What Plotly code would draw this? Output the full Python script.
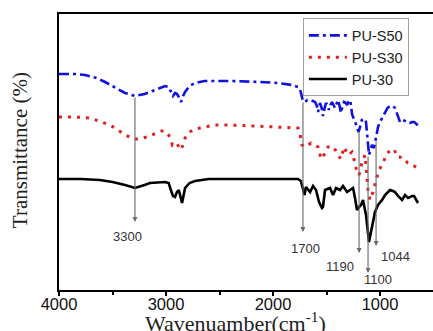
import plotly.graph_objects as go

# ---------------- data ----------------
s50_wn = [4000, 3850, 3757, 3650, 3570, 3470, 3383, 3290, 3200, 3150, 3060, 3009, 2975, 2955,
          2935, 2915, 2897, 2880, 2860, 2840, 2822, 2780, 2729, 2640, 2542, 2400, 2121, 1950,
          1822, 1766, 1748, 1735, 1720, 1700, 1680, 1654, 1630, 1607, 1590, 1579, 1570, 1561,
          1545, 1533, 1520, 1505, 1490, 1477, 1463, 1449, 1435, 1421, 1407, 1393, 1380, 1365,
          1350, 1336, 1320, 1308, 1295, 1280, 1270, 1262, 1245, 1234, 1215, 1200, 1187, 1170,
          1159, 1140, 1131, 1120, 1103, 1090, 1075, 1056, 1037, 1019, 1000, 981, 953, 930, 907,
          879, 860, 841, 813, 790, 766, 740, 720, 700, 682, 660, 645]
s50_t = [216, 216, 215, 212, 208, 202, 197, 194, 196, 198, 202, 204, 203, 199,
         194, 197, 196, 193, 188, 194, 198, 204, 207, 209, 209, 209, 208, 207,
         205, 203, 201, 196, 189, 188, 190, 190, 189, 188, 184, 178, 183, 187,
         182, 174, 181, 187, 185, 180, 185, 188, 185, 182, 186, 190, 185, 177,
         184, 188, 187, 185, 188, 190, 184, 176, 171, 169, 162, 158, 163, 170,
         171, 171, 168, 155, 135, 140, 145, 142, 155, 163, 168, 172, 178, 182, 184,
         184, 182, 177, 168, 170, 169, 167, 167, 168, 168, 166, 164]

s30_wn = [4000, 3850, 3710, 3620, 3523, 3450, 3383, 3300, 3262, 3180, 3103, 3040, 3009, 2975,
          2955, 2940, 2915, 2900, 2880, 2865, 2845, 2822, 2780, 2729, 2682, 2542, 2402, 2200,
          1935, 1766, 1748, 1729, 1701, 1645, 1579, 1551, 1505, 1486, 1430, 1402, 1365, 1336,
          1299, 1262, 1234, 1215, 1196, 1168, 1140, 1131, 1121, 1112, 1093, 1065, 1037, 1009,
          972, 935, 869, 841, 813, 790, 766, 740, 700, 660, 645]
s30_t = [173, 173, 172, 169, 165, 160, 155, 151, 151, 153, 156, 159, 159, 155,
         150, 145, 147, 147, 143, 140, 144, 152, 158, 161, 162, 165, 165, 164,
         163, 162, 156, 145, 143, 147, 143, 131, 138, 143, 143, 136, 131, 143,
         135, 138, 127, 117, 115, 128, 135, 123, 111, 100, 90, 98, 110, 120,
         127, 137, 141, 133, 133, 130, 130, 127, 125, 123, 122]

pu30_wn = [4000, 3800, 3617, 3500, 3383, 3290, 3200, 3150, 3009, 2975, 2955, 2935, 2916, 2897,
           2880, 2865, 2850, 2835, 2822, 2780, 2729, 2600, 2400, 1950, 1766, 1740, 1720, 1705,
           1692, 1654, 1626, 1598, 1570, 1542, 1533, 1514, 1467, 1439, 1411, 1374, 1346, 1308,
           1280, 1252, 1234, 1215, 1196, 1178, 1159, 1131, 1103, 1075, 1047, 1019, 981, 953,
           907, 879, 860, 832, 794, 766, 738, 701, 682, 645]
pu30_t = [111, 111, 110, 108, 105, 102, 105, 107, 108, 107, 100, 94, 93, 98,
          100, 92, 87, 95, 102, 107, 109, 111, 111, 111, 111, 109, 100, 95,
          103, 98, 104, 100, 88, 82, 83, 100, 102, 95, 102, 100, 104, 98,
          100, 102, 92, 80, 83, 85, 90, 75, 48, 65, 78, 85, 90, 95,
          100, 99, 98, 94, 90, 95, 92, 94, 94, 87]

peak_labels = ["3300", "1700", "1190", "1100", "1044"]
peak_pos = [3290, 1720, 1196, 1112, 1037]
peak_top = [194, 189, 160, 135, 150]
peak_tip = [68, 58, 37, 17, 44]
label_wn = [3364, 1692, 1374, 1019, 860]
label_t = [54, 42, 24, 11, 34]

x_ticks = [4000, 3000, 2000, 1000]
x_minor = [3500, 2500, 1500]
x_range = [4000, 505]
y_range = [0, 276]

# ---------------- figure ----------------
fig = go.Figure()
fig.add_trace(go.Scatter(x=s50_wn, y=s50_t, mode="lines", name="PU-S50",
                         line=dict(color="#1010e0", width=2.6, dash="10px,4px,3px,4px")))
fig.add_trace(go.Scatter(x=s30_wn, y=s30_t, mode="lines", name="PU-S30",
                         line=dict(color="#e02020", width=3, dash="3px,6px")))
fig.add_trace(go.Scatter(x=pu30_wn, y=pu30_t, mode="lines", name="PU-30",
                         line=dict(color="black", width=2.6)))

annotations = []
for lab, px, top, tip, lx, ly in zip(peak_labels, peak_pos, peak_top, peak_tip, label_wn, label_t):
    annotations.append(dict(x=px, y=tip, ax=px, ay=top, xref="x", yref="y",
                            axref="x", ayref="y", text="", showarrow=True,
                            arrowhead=2, arrowsize=0.9, arrowwidth=1.1, arrowcolor="#6a6a6a"))
    annotations.append(dict(x=lx, y=ly, xref="x", yref="y", text=lab, showarrow=False,
                            font=dict(family="Liberation Sans, Arial", size=13, color="#333"),
                            xanchor="center", yanchor="middle"))

annotations.append(dict(x=-0.104, y=0.507, xref="paper", yref="paper",
                        text="Transmittance (%)", textangle=-90, showarrow=False,
                        font=dict(family="Liberation Serif, Times New Roman", size=21, color="#222"),
                        xanchor="center", yanchor="middle"))
annotations.append(dict(x=0.473, y=-0.117, xref="paper", yref="paper",
                        text="Wavenuamber(cm<sup>-1</sup>)", showarrow=False,
                        font=dict(family="Liberation Serif, Times New Roman", size=22, color="#222"),
                        xanchor="center", yanchor="middle"))

fig.update_layout(
    width=433, height=331,
    margin=dict(l=59, r=0, t=14, b=41),
    paper_bgcolor="white", plot_bgcolor="white",
    showlegend=True,
    legend=dict(x=0.652, y=0.984, xanchor="left", yanchor="top",
                bordercolor="#a0a0a0", borderwidth=1, bgcolor="white",
                font=dict(family="Liberation Sans, Arial", size=14.5, color="#222"),
                itemwidth=38, tracegroupgap=0),
    annotations=annotations,
    xaxis=dict(range=x_range, tickvals=x_ticks, ticktext=[str(v) for v in x_ticks],
               showgrid=False, zeroline=False, showline=True, linecolor="black",
               linewidth=2, mirror=True, ticks="outside", ticklen=4, tickwidth=1.5,
               tickcolor="black", automargin=False, ticklabelstandoff=-6,
               minor=dict(tickvals=x_minor, ticks="outside", ticklen=3,
                          tickwidth=1.5, tickcolor="black"),
               tickfont=dict(family="Liberation Sans, Arial", size=16.5, color="#111")),
    yaxis=dict(range=y_range, showgrid=False, zeroline=False, showline=True, automargin=False,
               linecolor="black", linewidth=2, showticklabels=False, ticks=""),
)

fig.write_html("out.html", config={"displayModeBar": False},
               post_script="document.body.style.margin='0';document.body.style.overflow='hidden';")
